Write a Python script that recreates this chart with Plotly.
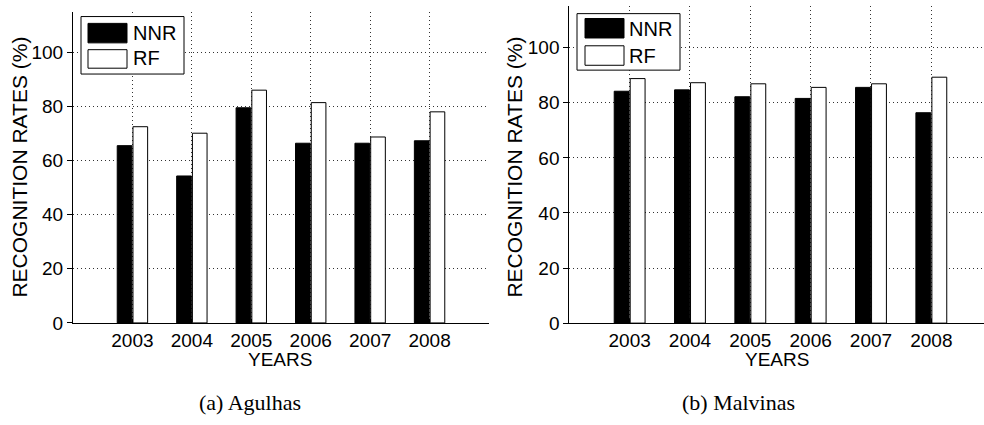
import plotly.graph_objects as go

years = [2003, 2004, 2005, 2006, 2007, 2008]
agulhas_nnr = [65.5, 54.3, 79.5, 66.4, 66.4, 67.3]
agulhas_rf = [72.5, 70.1, 86.0, 81.4, 68.7, 78.0]
malvinas_nnr = [84.2, 84.7, 82.2, 81.6, 85.6, 76.4]
malvinas_rf = [88.8, 87.3, 86.9, 85.6, 86.9, 89.3]
series_names = ["NNR", "RF"]
y_ticks = [0, 20, 40, 60, 80, 100]
x_title = "YEARS"
y_title = "RECOGNITION RATES (%)"
captions = ["(a) Agulhas", "(b) Malvinas"]

W, H = 984, 425
def px(x):
    return x / W
def py(y):
    return 1 - y / H

FONT = "Liberation Sans, Arial, sans-serif"
fig = go.Figure()

bar_line = dict(color="black", width=1)
fig.add_trace(go.Bar(x=years, y=agulhas_nnr, name=series_names[0], marker=dict(color="black", line=bar_line),
                     xaxis="x", yaxis="y", showlegend=False))
fig.add_trace(go.Bar(x=years, y=agulhas_rf, name=series_names[1], marker=dict(color="white", line=bar_line),
                     xaxis="x", yaxis="y", showlegend=False))
fig.add_trace(go.Bar(x=years, y=malvinas_nnr, name=series_names[0], marker=dict(color="black", line=bar_line),
                     xaxis="x2", yaxis="y2", showlegend=False))
fig.add_trace(go.Bar(x=years, y=malvinas_rf, name=series_names[1], marker=dict(color="white", line=bar_line),
                     xaxis="x2", yaxis="y2", showlegend=False))

xticks = years + [years[-1] + 1]
xtext = [str(y) for y in years] + [""]

GRID = dict(showgrid=True, gridcolor="#333", griddash="1px,3px", gridwidth=1)

def xaxis(domain, rng, anchor):
    return dict(domain=domain, range=rng, anchor=anchor, tickvals=xticks, ticktext=xtext, **GRID,
                showline=True, linecolor="black", linewidth=1, mirror=False,
                ticks="inside", ticklen=4, tickcolor="black",
                tickfont=dict(family=FONT, size=19, color="black"), zeroline=False)

def yaxis(domain, anchor):
    return dict(domain=domain, range=[0, 115], anchor=anchor, tickvals=y_ticks, **GRID,
                showline=True, linecolor="black", linewidth=1,
                ticks="outside", ticklen=5, tickcolor="black",
                tickfont=dict(family=FONT, size=19, color="black"), zeroline=False)

fig.update_layout(
    width=W, height=H, margin=dict(l=0, r=0, t=0, b=0),
    paper_bgcolor="white", plot_bgcolor="white",
    barmode="group", bargap=0.47, bargroupgap=0.07,
    xaxis=xaxis([px(73), px(489)], [2002, 2009], "y"),
    yaxis=yaxis([py(331.5), py(12)], "x"),
    xaxis2=xaxis([px(569.3), 1.0], [2002, 2008.873], "y2"),
    yaxis2=yaxis([py(331.7), py(6.6)], "x2"),
)

shapes = []
annots = []
# legends
legends = [
    dict(box=(81, 17, 184, 76), p1=(88, 24, 127, 44), p2=(88, 51, 127, 70), tx=131, t1=34, t2=60),
    dict(box=(577, 14, 680, 72), p1=(585, 19, 624, 39), p2=(585, 47, 624, 67), tx=627, t1=30, t2=57),
]
for lg in legends:
    x0, y0, x1, y1 = lg["box"]
    shapes.append(dict(type="rect", xref="paper", yref="paper", x0=px(x0), x1=px(x1), y0=py(y1), y1=py(y0),
                       line=dict(color="black", width=1), fillcolor="white", layer="above"))
    for (a0, b0, a1, b1), fill in [(lg["p1"], "black"), (lg["p2"], "white")]:
        shapes.append(dict(type="rect", xref="paper", yref="paper", x0=px(a0), x1=px(a1), y0=py(b1), y1=py(b0),
                           line=dict(color="black", width=1), fillcolor=fill, layer="above"))
    for name, ty in zip(series_names, [lg["t1"], lg["t2"]]):
        annots.append(dict(text=name, xref="paper", yref="paper", x=px(lg["tx"]), y=py(ty),
                           xanchor="left", yanchor="middle", showarrow=False,
                           font=dict(family=FONT, size=20, color="black")))

# axis titles
for cx in [20, 515]:
    annots.append(dict(text=y_title, xref="paper", yref="paper", x=px(cx), y=py(172), textangle=-90,
                       xanchor="center", yanchor="middle", showarrow=False,
                       font=dict(family=FONT, size=21, color="black")))
for cx in [280, 777]:
    annots.append(dict(text=x_title, xref="paper", yref="paper", x=px(cx), y=py(369),
                       xanchor="center", yanchor="middle", showarrow=False,
                       font=dict(family=FONT, size=19, color="black")))
for cap, cx in zip(captions, [250, 738]):
    annots.append(dict(text=cap, xref="paper", yref="paper", x=px(cx), y=py(413),
                       xanchor="center", yanchor="middle", showarrow=False,
                       font=dict(family="Liberation Serif, Times New Roman, serif", size=22, color="black")))

fig.update_layout(shapes=shapes, annotations=annots)
fig.write_html("out.html")
